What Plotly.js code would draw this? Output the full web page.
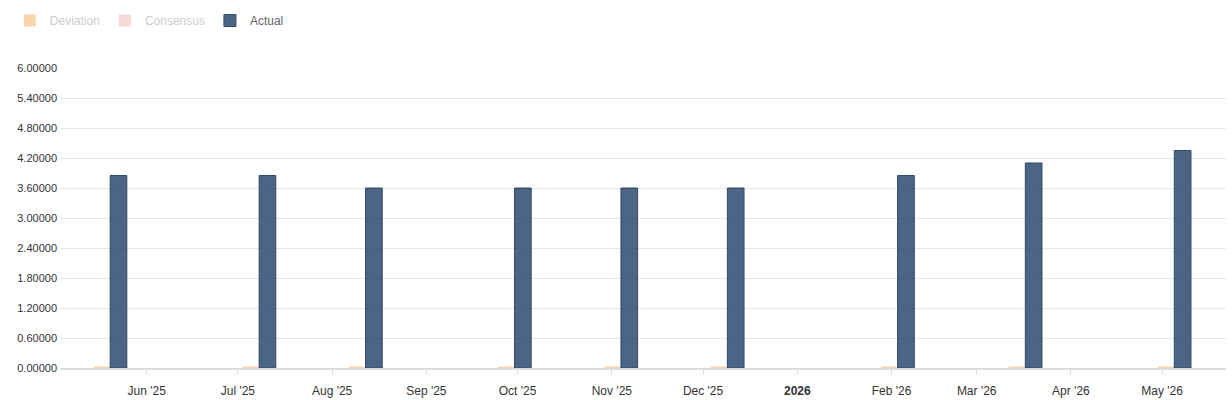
<!DOCTYPE html>
<html>
<head>
<meta charset="utf-8">
<script src="https://cdn.plot.ly/plotly-3.0.1.min.js"></script>
<style>
  html, body { margin: 0; padding: 0; background: #fff; }
  #chart { width: 1232px; height: 400px; }
</style>
</head>
<body>
<div id="chart"></div>
<script>
// decision dates and rates
let dates = ['2025-05-20', '2025-07-08', '2025-08-12', '2025-09-30', '2025-11-04',
             '2025-12-09', '2026-02-03', '2026-03-17', '2026-05-05'];
let actual = [3.85, 3.85, 3.60, 3.60, 3.60, 3.60, 3.85, 4.10, 4.35];
let consensus = [3.85, 3.85, 3.60, 3.60, 3.60, 3.60, 3.85, 4.10, 4.35];
let deviation = [0.03, 0.03, 0.03, 0.03, 0.03, 0.03, 0.03, 0.03, 0.03];

let tickVals = ['2025-06-01', '2025-07-01', '2025-08-01', '2025-09-01', '2025-10-01', '2025-11-01',
                '2025-12-01', '2026-01-01', '2026-02-01', '2026-03-01', '2026-04-01', '2026-05-01'];
let tickText = ["Jun '25", "Jul '25", "Aug '25", "Sep '25", "Oct '25", "Nov '25",
                "Dec '25", "<b>2026</b>", "Feb '26", "Mar '26", "Apr '26", "May '26"];
let yTicks = [0, 0.6, 1.2, 1.8, 2.4, 3.0, 3.6, 4.2, 4.8, 5.4, 6.0];

let traceDev = {
    x: dates,
    y: deviation,
    type: 'bar',
    name: '<span style="color:#cccccc">Deviation</span>',
    marker: { color: '#f9d4ae' }
};
let traceCons = {
    x: dates,
    y: consensus,
    type: 'bar',
    name: '<span style="color:#999999">Consensus</span>',
    visible: 'legendonly',
    marker: { color: '#eeb4b4' }
};
let traceAct = {
    x: dates,
    y: actual,
    type: 'bar',
    name: 'Actual',
    marker: { color: 'rgba(46,74,112,0.85)', line: { color: '#2e4a6e', width: 1 } }
};
let data = [traceDev, traceCons, traceAct];

let layout = {
    width: 1232,
    height: 400,
    margin: { l: 60, r: 6, t: 68, b: 32 },
    paper_bgcolor: '#fff',
    plot_bgcolor: '#fff',
    font: { family: 'Liberation Sans, Arial, sans-serif', size: 12, color: '#333' },
    barmode: 'group',
    bargap: 0.687,
    bargroupgap: 0,
    showlegend: true,
    legend: {
        orientation: 'h',
        x: 0.008, xref: 'container', xanchor: 'left',
        y: 0.985, yref: 'container', yanchor: 'top',
        font: { size: 12, color: '#666' },
        itemclick: false
    },
    xaxis: {
        type: 'date',
        range: ['2025-05-03 12:00', '2026-05-22'],
        tickmode: 'array',
        tickvals: tickVals,
        ticktext: tickText,
        ticks: 'outside',
        ticklen: 5,
        tickcolor: '#dddddd',
        ticklabelstandoff: 6,
        tickfont: { size: 12, color: '#333' },
        showgrid: false,
        showline: true,
        linecolor: '#dddddd',
        linewidth: 2,
        zeroline: false,
        layer: 'below traces',
        fixedrange: true
    },
    yaxis: {
        range: [0, 6.0],
        tickmode: 'array',
        tickvals: yTicks,
        tickformat: '.5f',
        tickfont: { size: 11, color: '#333' },
        showgrid: true,
        gridcolor: '#e5e5e5',
        gridwidth: 1,
        zeroline: false,
        showline: false,
        ticklabelstandoff: 2,
        fixedrange: true
    }
};

Plotly.newPlot('chart', data, layout, { displayModeBar: false, staticPlot: true });
</script>
</body>
</html>
